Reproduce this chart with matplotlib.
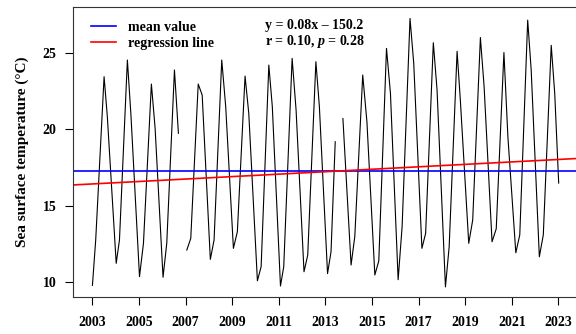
import numpy as np
import matplotlib.pyplot as plt

# monthly SST series (turning points), NaN marks the data gaps
year = [2003.00, 2003.14, 2003.50, 2003.64, 2004.02, 2004.16, 2004.50, 2004.65,
        2005.02, 2005.19, 2005.53, 2005.69, 2006.03, 2006.19, 2006.52, 2006.69,
        np.nan,
        2007.05, 2007.22, 2007.54, 2007.71, 2008.06, 2008.22, 2008.55, 2008.72,
        2009.05, 2009.22, 2009.55, 2009.71, 2010.08, 2010.24, 2010.57, 2010.72,
        2011.07, 2011.21, 2011.57, 2011.74, 2012.08, 2012.24, 2012.59, 2012.74,
        2013.09, 2013.24, 2013.42,
        np.nan,
        2013.75, 2014.10, 2014.26, 2014.60, 2014.78, 2015.12, 2015.29, 2015.62,
        2015.79, 2016.12, 2016.29, 2016.63, 2016.79, 2017.14, 2017.30, 2017.63,
        2017.79, 2018.15, 2018.31, 2018.65, 2018.79, 2019.15, 2019.32, 2019.65,
        2019.81, 2020.15, 2020.33, 2020.66, 2020.83, 2021.17, 2021.34, 2021.68,
        2021.83, 2022.18, 2022.35, 2022.69, 2022.84, 2023.01]
sst = [9.80, 12.76, 23.44, 20.82, 11.24, 12.76, 24.53, 21.00,
       10.37, 12.55, 22.96, 20.07, 10.33, 12.55, 23.88, 19.74,
       np.nan,
       12.11, 12.87, 22.96, 22.24, 11.50, 12.76, 24.53, 21.48,
       12.22, 13.31, 23.48, 21.04, 10.10, 11.02, 24.20, 21.48,
       9.76, 11.02, 24.64, 21.26, 10.69, 11.78, 24.42, 21.48,
       10.57, 12.00, 19.19,
       np.nan,
       20.70, 11.13, 13.00, 23.55, 20.50, 10.48, 11.40, 25.29,
       22.35, 10.17, 13.63, 27.25, 24.30, 12.22, 13.20, 25.66,
       22.57, 9.70, 12.33, 25.10, 21.90, 12.55, 14.07, 26.00,
       22.78, 12.65, 13.50, 25.02, 19.52, 11.93, 13.10, 27.14,
       23.88, 11.67, 13.10, 25.49, 22.35, 16.49]

mean_sst = 17.27
slope = 0.08
intercept = -143.81

xticks = list(range(2003, 2024, 2))
yticks = [10, 15, 20, 25]

plt.rcParams['font.family'] = 'Liberation Serif'
plt.rcParams['font.weight'] = 'bold'
plt.rcParams['mathtext.fontset'] = 'custom'
plt.rcParams['mathtext.it'] = 'Liberation Serif:italic:bold'

fig = plt.figure(figsize=(5.76, 3.34), dpi=100)
ax = fig.add_axes([0.1273, 0.1117, 0.875, 0.868])

xlim = (2002.18, 2023.81)
ax.plot(year, sst, color='black', lw=0.8)
ax.axhline(mean_sst, color='blue', lw=1.2, label='mean value')
xs = np.array(xlim)
ax.plot(xs, slope * xs + intercept, color='red', lw=1.2, label='regression line')

ax.set_xlim(*xlim)
ax.set_ylim(9.06, 28.01)
ax.set_xticks(xticks)
ax.set_yticks(yticks)
ax.tick_params(labelsize=10, length=6, width=0.8, pad=6)
ax.tick_params(axis='x', pad=8)
for s in ax.spines.values():
    s.set_linewidth(0.8)
    s.set_color('#333333')

ax.set_ylabel('Sea surface temperature (°C)', fontsize=11, fontweight='bold', labelpad=10)

ax.legend(loc='upper left', frameon=False, handlelength=1.8,
          handletextpad=0.9, labelspacing=0.25, bbox_to_anchor=(0.01, 0.995),
          prop={'weight': 'bold', 'size': 10})

# equation and correlation in pixel coordinates from the top of the figure
ax.text(265, 334 - 25, 'y = 0.08x – 150.2', transform=None, fontsize=10,
        fontweight='bold', va='center', ha='left')
ax.text(265, 334 - 42, 'r = 0.10, $p$ = 0.28', transform=None, fontsize=10,
        fontweight='bold', va='center', ha='left')

fig.savefig('out.png', dpi=100)
